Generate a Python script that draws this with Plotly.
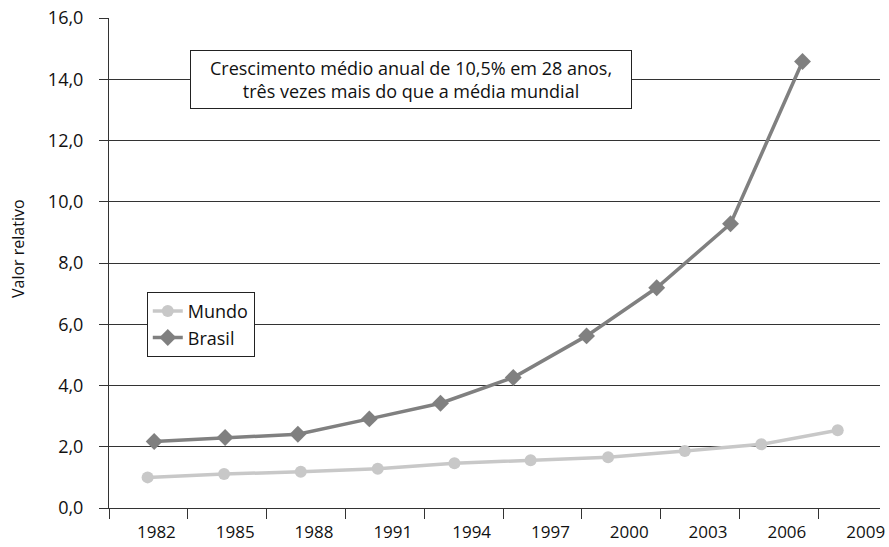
import plotly.graph_objects as go

# Tick labels on the horizontal axis
year_labels = [1982, 1985, 1988, 1991, 1994, 1997, 2000, 2003, 2006, 2009]

# Mundo series (position along the year axis, relative value)
mundo_x = [1981.97, 1984.88, 1987.80, 1990.73, 1993.65, 1996.55, 1999.50, 2002.42, 2005.33, 2008.24]
mundo_y = [1.00, 1.11, 1.18, 1.28, 1.46, 1.56, 1.66, 1.86, 2.08, 2.54]

# Brasil series
brasil_x = [1982.22, 1984.92, 1987.69, 1990.41, 1993.12, 1995.89, 1998.68, 2001.35, 2004.16, 2006.90]
brasil_y = [2.17, 2.30, 2.41, 2.91, 3.42, 4.26, 5.62, 7.19, 9.28, 14.58]

y_ticks = [0, 2, 4, 6, 8, 10, 12, 14, 16]

FONT = "Open Sans"
INK = "#111111"

fig = go.Figure()
fig.add_trace(go.Scatter(
    x=mundo_x, y=mundo_y, name="Mundo", mode="lines+markers",
    line=dict(color="#c8c8c8", width=3.5),
    marker=dict(symbol="circle", size=12, color="#c8c8c8"),
))
fig.add_trace(go.Scatter(
    x=brasil_x, y=brasil_y, name="Brasil", mode="lines+markers",
    line=dict(color="#808080", width=3.5),
    marker=dict(symbol="diamond", size=13, color="#808080"),
))

fig.update_layout(
    width=889, height=547,
    margin=dict(l=109, r=9, t=18, b=39),
    paper_bgcolor="white", plot_bgcolor="white",
    font=dict(family=FONT, size=18, color=INK),
    separators=",.",
    showlegend=True,
    legend=dict(
        x=0.049, y=0.441, xanchor="left", yanchor="top",
        bgcolor="white", bordercolor="#222222", borderwidth=1,
        font=dict(family=FONT, size=18, color=INK),
        traceorder="normal", itemwidth=30,
    ),
    xaxis=dict(
        range=[1980.5, 2009.85], automargin=False,
        tickmode="array", tickvals=year_labels,
        ticktext=[str(v) for v in year_labels],
        ticks="", ticklabelshift=8, ticklabelstandoff=9,
        tickfont=dict(size=17),
        showgrid=False, zeroline=False,
        showline=True, linecolor="#333333", linewidth=1,
        minor=dict(tickmode="linear", tick0=1980.5, dtick=3,
                   ticks="outside", ticklen=10, tickcolor="#333333",
                   tickwidth=1, showgrid=False),
    ),
    yaxis=dict(
        range=[0, 16], automargin=False,
        tickmode="array", tickvals=y_ticks, tickformat=".1f",
        ticks="outside", ticklen=9, tickcolor="#333333",
        ticklabelstandoff=12,
        tickfont=dict(size=18),
        showgrid=True, gridcolor="#333333", gridwidth=1,
        zeroline=False,
        showline=True, linecolor="#333333", linewidth=1,
    ),
)

# Vertical axis title
fig.add_annotation(
    text="Valor relativo", xref="paper", yref="paper",
    x=-0.118, y=0.5286, xanchor="center", yanchor="middle",
    textangle=-90, showarrow=False,
    font=dict(family=FONT, size=16, color=INK),
)

# Highlight box with the growth remark
fig.add_annotation(
    text="Crescimento médio anual de 10,5% em 28 anos,<br>três vezes mais do que a média mundial",
    xref="paper", yref="paper", x=0.392, y=0.8755,
    xanchor="center", yanchor="middle", showarrow=False,
    align="center", width=438, height=55,
    bgcolor="white", bordercolor="#222222", borderwidth=1,
    font=dict(family=FONT, size=18, color=INK),
)

fig.write_html("out.html")
